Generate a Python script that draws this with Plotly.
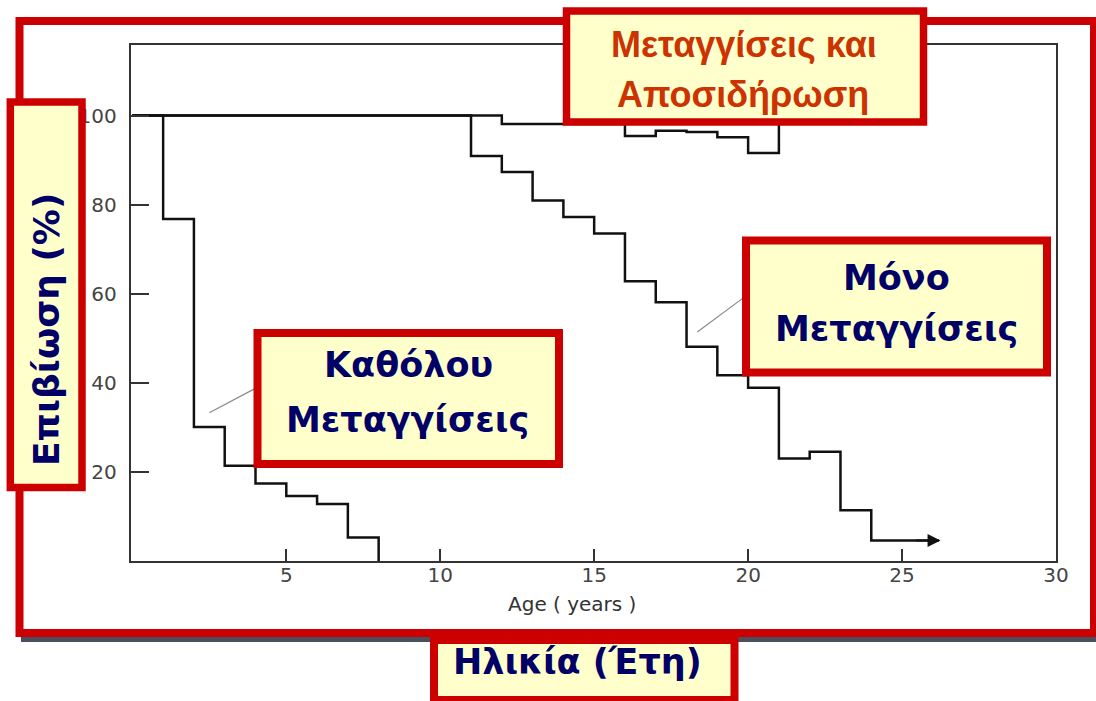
import plotly.graph_objects as go

W, H = 1096, 701

# ---------------- data ----------------
no_tx_age = [0, 1, 2, 3, 4, 5, 6, 7, 8]
no_tx_surv = [100, 76.8, 30.1, 21.4, 17.4, 14.6, 12.8, 5.3, 0]

tx_age = [0, 11, 12, 13, 14, 15, 16, 17, 18, 19, 20, 21, 22, 23, 24, 26.2]
tx_surv = [100, 90.9, 87.3, 80.9, 77.2, 73.5, 62.8, 58.1, 48.1, 41.7, 38.9,
           23.0, 24.5, 11.4, 4.6, 4.6]

chel_age = [0, 12, 16, 17, 18, 19, 20, 21]
chel_surv = [100, 98.1, 95.4, 96.6, 96.3, 95.1, 91.6, 98.1]

x_tick_vals = [5, 10, 15, 20, 25, 30]
y_tick_vals = [20, 40, 60, 80, 100]

x_axis_label = "Age ( years )"
title_lines = ["Μεταγγίσεις και", "Αποσιδήρωση"]
y_title = "Επιβίωση (%)"
x_title = "Ηλικία (Έτη)"
no_tx_label = ["Καθόλου", "Μεταγγίσεις"]
tx_label = ["Μόνο", "Μεταγγίσεις"]

# ---------------- helpers (pixel -> paper) ----------------
def px(x):
    return x / W


def py(y):
    return 1 - y / H


def rect(x0, y0, x1, y1, line_color=None, lw=0, fill=None):
    d = dict(type="rect", xref="paper", yref="paper", layer="above",
             x0=px(x0), x1=px(x1), y0=py(y1), y1=py(y0))
    d["line"] = dict(color=line_color or "rgba(0,0,0,0)", width=lw)
    d["fillcolor"] = fill or "rgba(0,0,0,0)"
    return d


RED = "#CC0000"
YEL = "#FFFFCC"
NAVY = "#000066"
ORANGE = "#CC3300"

fig = go.Figure()
for xs, ys in [(no_tx_age, no_tx_surv), (tx_age, tx_surv), (chel_age, chel_surv)]:
    fig.add_trace(go.Scatter(x=xs, y=ys, mode="lines", line_shape="hv",
                             line=dict(color="#111111", width=2.5),
                             showlegend=False, hoverinfo="skip"))

tick_font = dict(family="DejaVu Sans", size=20, color="#444444")

fig.update_layout(
    width=W, height=H, autosize=False,
    margin=dict(l=0, r=0, t=0, b=0, autoexpand=False),
    paper_bgcolor="white", plot_bgcolor="white",
    xaxis=dict(domain=[px(130.5), px(1056)], range=[-0.06, 30], automargin=False,
               tickvals=x_tick_vals, ticks="inside", ticklen=12, tickwidth=1.5,
               tickcolor="#333333", showgrid=False, zeroline=False,
               showline=True, mirror=True, linecolor="#333333", linewidth=1.6,
               tickfont=tick_font, ticklabelstandoff=-5),
    yaxis=dict(domain=[py(561), py(44.7)], range=[0, 115.9], automargin=False,
               tickvals=y_tick_vals, ticks="inside", ticklen=19, tickwidth=1.5,
               tickcolor="#333333", showgrid=False, zeroline=False,
               showline=True, mirror=True, linecolor="#333333", linewidth=1.6,
               tickfont=tick_font, ticklabelstandoff=8),
)

shapes = []
# leader lines from curves to labels
shapes.append(dict(type="line", xref="x", yref="y", layer="above",
                   x0=2.5, y0=33.3, x1=3.98, y1=38.7,
                   line=dict(color="#8a8a8a", width=1.2)))
shapes.append(dict(type="line", xref="x", yref="y", layer="above",
                   x0=18.35, y0=51.4, x1=19.81, y1=58.9,
                   line=dict(color="#8a8a8a", width=1.2)))
# shadow strip + outer frame
shapes.append(rect(21, 637, 1096, 642, fill="#4A4F5E"))
shapes.append(rect(19.5, 21, 1094, 633, line_color=RED, lw=8))
# label boxes
shapes.append(rect(566.5, 11, 923.5, 122, line_color=RED, lw=7.5, fill=YEL))
shapes.append(rect(10.3, 102, 82, 487.5, line_color=RED, lw=7.5, fill=YEL))
shapes.append(rect(257.5, 333, 559, 464, line_color=RED, lw=8, fill=YEL))
shapes.append(rect(746, 240.5, 1047, 372.5, line_color=RED, lw=8, fill=YEL))
shapes.append(rect(434, 640, 734.5, 700, line_color=RED, lw=8, fill=YEL))
fig.update_layout(shapes=shapes)


def txt(x, y, s, size, color, family="DejaVu Sans", angle=0, weight="bold"):
    fig.add_annotation(x=px(x), y=py(y), xref="paper", yref="paper",
                       text=s, showarrow=False, xanchor="center", yanchor="middle",
                       textangle=angle,
                       font=dict(family=family, size=size, color=color, weight=weight))


txt(744, 44.5, title_lines[0], 36, ORANGE, family="Liberation Sans, Arial")
txt(743, 94, title_lines[1], 36, ORANGE, family="Liberation Sans, Arial")
txt(46, 330, y_title, 36, NAVY, angle=-90)
txt(408, 365, no_tx_label[0], 35, NAVY)
txt(407.5, 419.5, no_tx_label[1], 35, NAVY)
txt(896.5, 278, tx_label[0], 35, NAVY)
txt(896.5, 329, tx_label[1], 35, NAVY)
txt(577.5, 661.5, x_title, 35, NAVY)
txt(572, 604, x_axis_label, 20, "#333333", weight="normal")

# arrow at the end of the transfusion-only curve
fig.add_annotation(x=26.25, y=tx_surv[-1], xref="x", yref="y",
                   ax=25.4, ay=tx_surv[-1], axref="x", ayref="y",
                   text="", showarrow=True, arrowhead=2, arrowsize=1.3,
                   arrowwidth=2, arrowcolor="#111111")

fig.write_html(
    "out.html",
    config={"responsive": False, "displayModeBar": False},
    post_script="document.documentElement.style.margin='0';"
                "document.body.style.margin='0';document.body.style.padding='0';"
                "document.documentElement.style.overflow='hidden';"
                "document.body.style.overflow='hidden';",
)
